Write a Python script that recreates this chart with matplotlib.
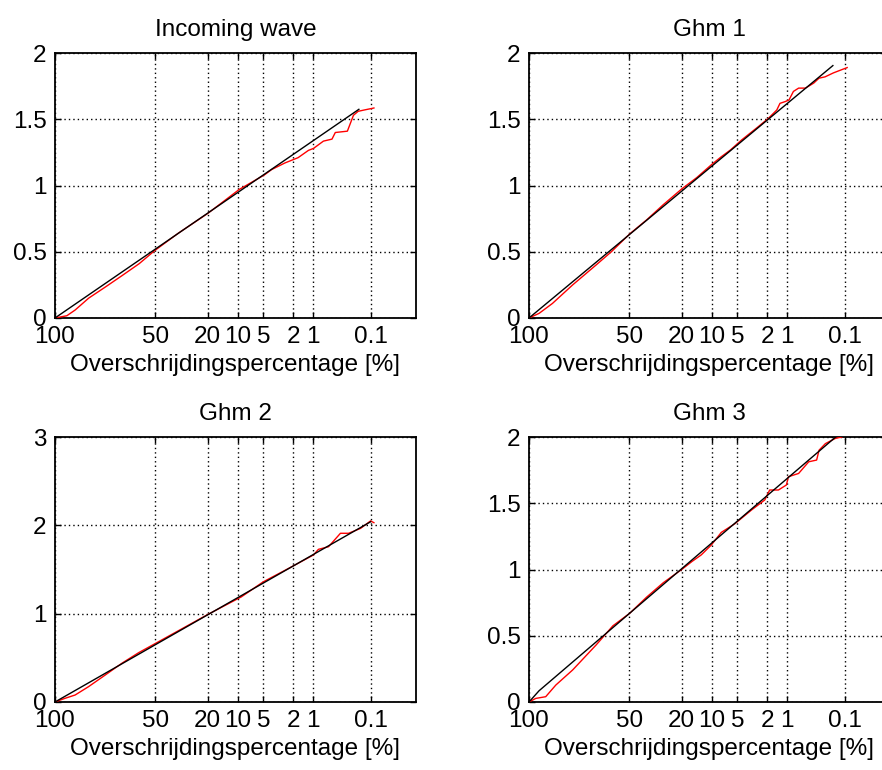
import numpy as np
import matplotlib
matplotlib.use("Agg")
import matplotlib.pyplot as plt

plt.rcParams["font.family"] = ["Liberation Sans", "DejaVu Sans"]

# exceedance percentages shown on the Rayleigh axis
tick_pct = [100, 50, 20, 10, 5, 2, 1, 0.1]
tick_lbl = ["100", "50", "20", "10", "5", "2", "1", "0.1"]

# ---- Incoming wave ----
inc_fit_pct = [100, 0.17]
inc_fit_h = [0.0, 1.575]
inc_pct = [100, 99.04, 97.25, 92.46, 83.8, 73.3, 61.3, 50.2, 35.0, 19.9, 9.6, 4.84,
           3.92, 2.60, 1.69, 1.185, 0.99, 0.69, 0.50, 0.44, 0.273, 0.213, 0.175,
           0.135, 0.089]
inc_h = [0.0, 0.017, 0.06, 0.15, 0.235, 0.32, 0.41, 0.51, 0.64, 0.79, 0.97, 1.08,
         1.12, 1.17, 1.21, 1.265, 1.28, 1.335, 1.35, 1.40, 1.41, 1.53, 1.56,
         1.57, 1.585]

# ---- Ghm 1 ----
g1_fit_pct = [100, 0.17]
g1_fit_h = [0.0, 1.905]
g1_pct = [100, 99.30, 96.27, 87.65, 73.3, 62.6, 49.6, 38.5, 28.8, 19.9, 14.3, 9.92,
          7.78, 6.07, 4.42, 2.65, 1.91, 1.44, 1.29, 1.08, 0.94, 0.80, 0.66, 0.51,
          0.37, 0.30, 0.235, 0.166, 0.092]
g1_h = [0.0, 0.035, 0.11, 0.25, 0.40, 0.50, 0.635, 0.74, 0.855, 0.975, 1.06, 1.16,
        1.217, 1.268, 1.343, 1.444, 1.507, 1.57, 1.62, 1.633, 1.645, 1.71, 1.735,
        1.735, 1.773, 1.81, 1.82, 1.85, 1.89]

# ---- Ghm 2 ----
g2_fit_pct = [100, 0.103]
g2_fit_h = [0.0, 2.04]
g2_pct = [100, 99.30, 97.25, 92.5, 83.97, 73.3, 61.5, 49.6, 20.0, 9.1, 5.01, 2.10,
          0.99, 0.83, 0.57, 0.36, 0.26, 0.158, 0.103, 0.089]
g2_h = [0.0, 0.042, 0.079, 0.174, 0.306, 0.44, 0.56, 0.665, 0.99, 1.19, 1.36, 1.53,
        1.665, 1.728, 1.758, 1.91, 1.91, 1.966, 2.05, 2.03]

# ---- Ghm 3 ----
g3_fit_pct = [100, 99.3, 0.116]
g3_fit_h = [0.0, 0.085, 2.04]
g3_pct = [100, 99.69, 98.09, 95.15, 87.65, 73.3, 61.5, 49.6, 38.6, 28.8, 20.0, 16.0,
          12.9, 10.07, 7.78, 5.37, 3.26, 2.15, 1.83, 1.36, 1.03, 0.96, 0.66, 0.45,
          0.33, 0.30, 0.232, 0.152, 0.116]
g3_h = [0.0, 0.027, 0.040, 0.128, 0.242, 0.43, 0.575, 0.67, 0.79, 0.90, 1.0, 1.06,
        1.11, 1.185, 1.28, 1.345, 1.45, 1.525, 1.60, 1.60, 1.638, 1.70, 1.725, 1.813,
        1.826, 1.90, 1.95, 1.99, 2.0]


def fwd(p):
    p = np.clip(np.asarray(p, dtype=float), 1e-12, 100.0)
    return np.sqrt(-np.log(p / 100.0))


def inv(r):
    return 100.0 * np.exp(-np.asarray(r, dtype=float) ** 2)


def panel(rect, title, pct, h, fit_pct, fit_h, ymax, yticks, ylabels):
    ax = fig.add_axes(rect)
    ax.set_xscale("function", functions=(fwd, inv))
    ax.set_xlim(inv(3.0), 100)
    ax.set_ylim(0, ymax)
    ax.plot(pct, h, color="#ff0000", lw=1.0, zorder=3)
    ax.plot(fit_pct, fit_h, color="black", lw=1.0, zorder=4)
    ax.set_xticks(tick_pct)
    ax.set_xticklabels(tick_lbl)
    ax.xaxis.set_minor_locator(matplotlib.ticker.NullLocator())
    ax.set_yticks(yticks)
    ax.set_yticklabels(ylabels)
    ax.grid(True, color="black", lw=1.0, linestyle=(0, (1.0, 2.2)))
    ax.tick_params(direction="in", length=4, width=1, top=True, right=True,
                   labelsize=17.5, colors="black", pad=6)
    for s in ax.spines.values():
        s.set_linewidth(1.3)
    ax.set_title(title, fontsize=17.5, pad=12)
    ax.set_xlabel("Overschrijdingspercentage [%]", fontsize=17.5, labelpad=4)
    return ax


fig = plt.figure(figsize=(8.82, 7.70), dpi=100)
fig.patch.set_facecolor("white")

W, H = 882.0, 770.0
aw, ah = 361 / W, 265 / H
top_b = (770 - 318) / H
bot_b = (770 - 702) / H
left_l = 55 / W
right_l = 529 / W

y2 = [0, 0.5, 1, 1.5, 2]
y2l = ["0", "0.5", "1", "1.5", "2"]
panel([left_l, top_b, aw, ah], "Incoming wave", inc_pct, inc_h, inc_fit_pct, inc_fit_h,
      2, y2, y2l)
panel([right_l, top_b, aw, ah], "Ghm 1", g1_pct, g1_h, g1_fit_pct, g1_fit_h,
      2, y2, y2l)
panel([left_l, bot_b, aw, ah], "Ghm 2", g2_pct, g2_h, g2_fit_pct, g2_fit_h,
      3, [0, 1, 2, 3], ["0", "1", "2", "3"])
panel([right_l, bot_b, aw, ah], "Ghm 3", g3_pct, g3_h, g3_fit_pct, g3_fit_h,
      2, y2, y2l)

fig.savefig("out.png", dpi=100, facecolor="white")
